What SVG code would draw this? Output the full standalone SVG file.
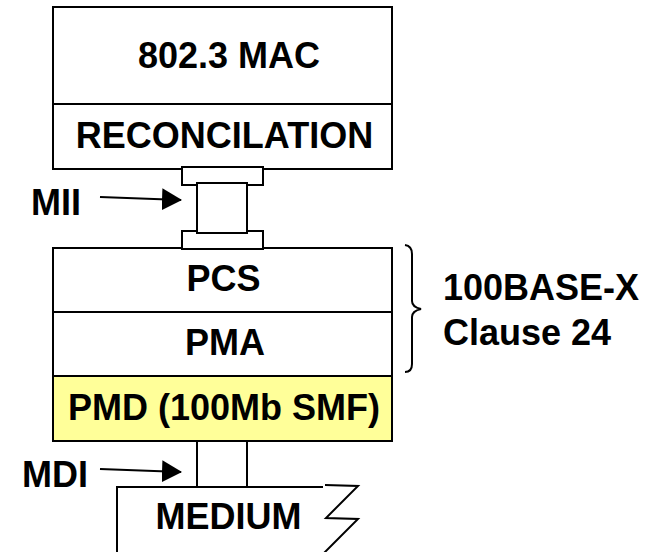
<svg xmlns="http://www.w3.org/2000/svg" width="660" height="552" viewBox="0 0 660 552">
<defs>
<style>
.box{fill:#FFFFFF;stroke:#000000;stroke-width:2}
.pmd{fill:#FFFF99;stroke:#000000;stroke-width:2}
.ln{fill:none;stroke:#000000;stroke-width:2}
.t{font-family:"Liberation Sans",Arial,sans-serif;font-weight:bold;font-size:36px;fill:#000000}
.c{text-anchor:middle}
</style>
<marker id="ah" viewBox="0 0 20 22" refX="19" refY="11" markerWidth="20" markerHeight="22" markerUnits="userSpaceOnUse" orient="auto">
<path d="M0,0 L20,11 L0,22 Z" fill="#000000"/>
</marker>
</defs>
<rect width="660" height="552" fill="#FFFFFF"/>
<g id="mac">
<rect class="box" x="53" y="7" width="339" height="97"/>
<text class="t c" x="229" y="68">802.3 MAC</text>
</g>
<g id="reconciliation">
<rect class="box" x="53" y="104" width="339" height="65"/>
<text class="t c" x="224.5" y="148">RECONCILATION</text>
</g>
<g id="pcs">
<rect class="box" x="53" y="248" width="339" height="64"/>
<text class="t c" x="223.5" y="291">PCS</text>
</g>
<g id="pma">
<rect class="box" x="53" y="312" width="339" height="64"/>
<text class="t c" x="225" y="355">PMA</text>
</g>
<g id="pmd">
<rect class="pmd" x="53" y="376" width="339" height="65"/>
<text class="t c" x="224" y="420">PMD (100Mb SMF)</text>
</g>
<g id="mii">
<rect class="box" x="182" y="167" width="81" height="18"/>
<rect class="box" x="182" y="231" width="81" height="18"/>
<rect class="box" x="197" y="183" width="50" height="50"/>
<text class="t" x="31" y="215">MII</text>
</g>
<g id="mdi">
<rect class="box" x="197" y="441" width="50" height="46"/>
<text class="t" x="22" y="487">MDI</text>
</g>
<g id="medium">
<path d="M117,560 L117,487 L323,487 L326,485 L358,486 L326,518 L358,519 L322,556 L117,556 Z" fill="#FFFFFF" stroke="none"/>
<path class="ln" d="M117,560 L117,487 L323,487"/>
<path class="ln" d="M325,485 L358,486 L326,518 L358,519 L324,553"/>
<text class="t c" x="228.5" y="529">MEDIUM</text>
</g>
<g id="group-label">
<path class="ln" d="M405,245 Q412,246 412,254 L412,301 Q412,307 421,309 Q412,311 412,317 L412,364 Q412,372 405,372"/>
<text class="t" x="443" y="300">100BASE-X</text>
<text class="t" x="443" y="345">Clause 24</text>
</g>
<g id="connectors">
<line class="ln" x1="100" y1="197" x2="181" y2="200" marker-end="url(#ah)"/>
<line class="ln" x1="100" y1="469" x2="181" y2="472" marker-end="url(#ah)"/>
</g>
</svg>
